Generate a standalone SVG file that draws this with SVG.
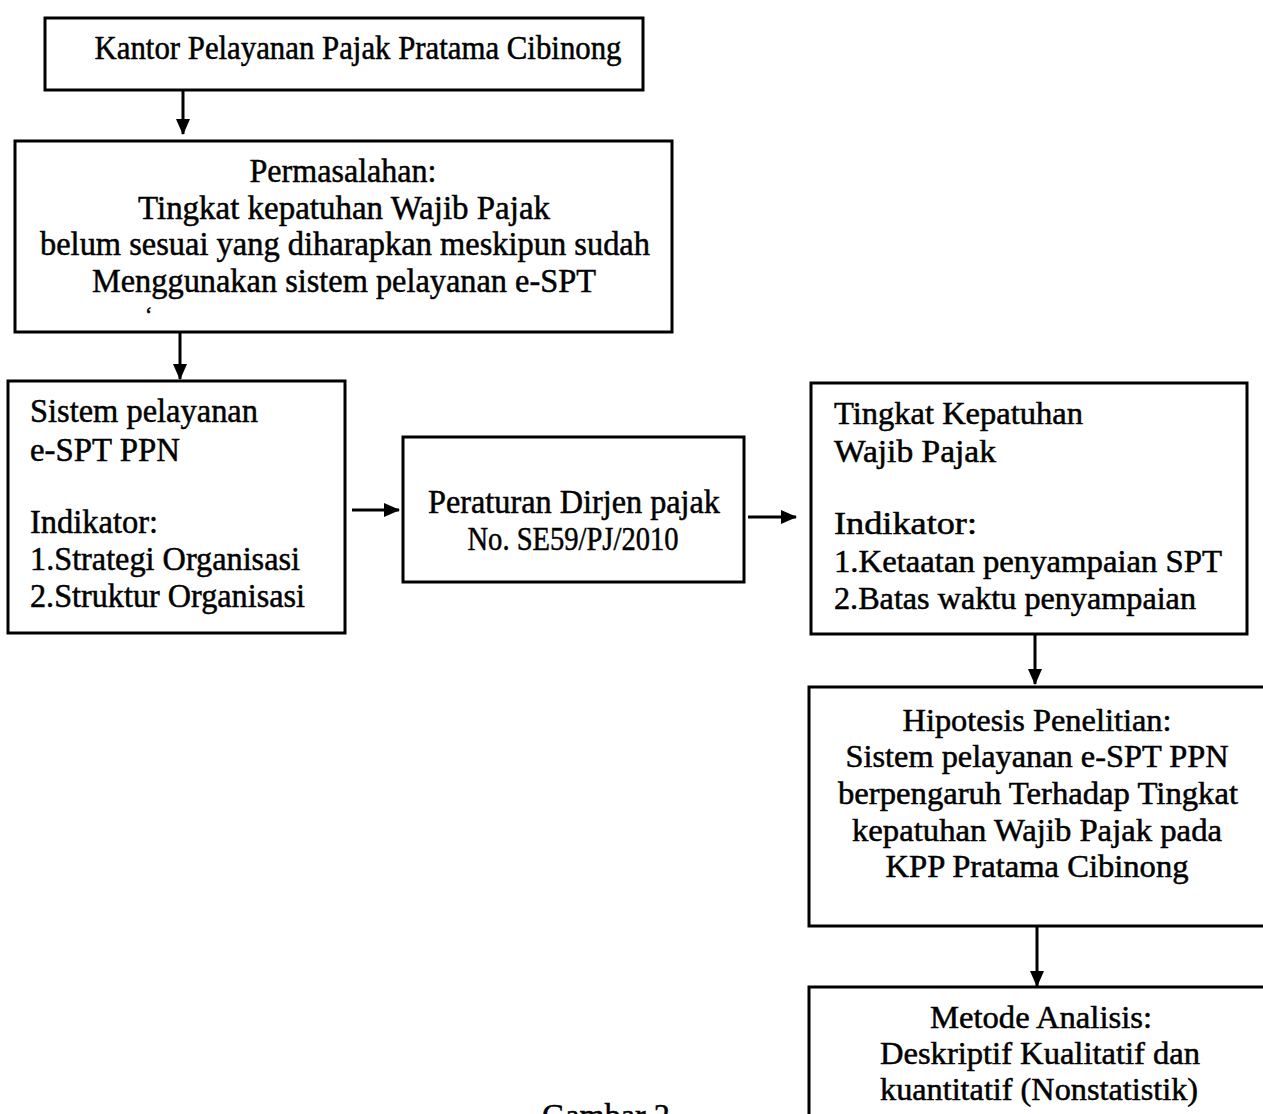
<svg xmlns="http://www.w3.org/2000/svg" width="1263" height="1114" viewBox="0 0 1263 1114">
<style>
.box{fill:#fff;stroke:#000;stroke-width:3}
.t{font-family:"Liberation Serif","Times New Roman",serif;font-size:34px;fill:#000;stroke:#000;stroke-width:0.5}
.c{text-anchor:middle}
.r{font-size:31px}
.con{stroke:#000;stroke-width:3;fill:none}
</style>
<defs>
<marker id="ah" markerUnits="userSpaceOnUse" markerWidth="16" markerHeight="16" viewBox="0 0 16 16" refX="15" refY="8" orient="auto">
<path d="M0,1 L16,8 L0,15 Z" fill="#000"/>
</marker>
</defs>
<rect width="1263" height="1114" fill="#fff"/>
<g id="connectors">
<line class="con" x1="183" y1="90" x2="183" y2="134" marker-end="url(#ah)"/>
<line class="con" x1="180" y1="332" x2="180" y2="379" marker-end="url(#ah)"/>
<line class="con" x1="352" y1="510" x2="399" y2="510" marker-end="url(#ah)"/>
<line class="con" x1="748" y1="517" x2="796" y2="517" marker-end="url(#ah)"/>
<line class="con" x1="1035" y1="634" x2="1035" y2="684" marker-end="url(#ah)"/>
<line class="con" x1="1037" y1="926" x2="1037" y2="986" marker-end="url(#ah)"/>
</g>
<g id="kantor">
<rect class="box" x="45" y="18" width="598" height="72"/>
<text class="t c" x="358" y="59" textLength="527" lengthAdjust="spacingAndGlyphs">Kantor Pelayanan Pajak Pratama Cibinong</text>
</g>
<g id="permasalahan">
<rect class="box" x="15" y="141" width="657" height="191"/>
<text class="t c" x="343" y="182" textLength="187" lengthAdjust="spacingAndGlyphs">Permasalahan:</text>
<text class="t c" x="344" y="219" textLength="412" lengthAdjust="spacingAndGlyphs">Tingkat kepatuhan Wajib Pajak</text>
<text class="t c" x="345" y="255" textLength="610" lengthAdjust="spacingAndGlyphs">belum sesuai yang diharapkan meskipun sudah</text>
<text class="t c" x="344" y="292" textLength="504" lengthAdjust="spacingAndGlyphs">Menggunakan sistem pelayanan e-SPT</text>
<text class="t" x="145" y="322" style="font-size:22px">‘</text>
</g>
<g id="sistem">
<rect class="box" x="8" y="381" width="337" height="252"/>
<text class="t" x="30" y="422" textLength="228" lengthAdjust="spacingAndGlyphs">Sistem pelayanan</text>
<text class="t" x="30" y="461" textLength="150" lengthAdjust="spacingAndGlyphs">e-SPT PPN</text>
<text class="t" x="30" y="533" textLength="128" lengthAdjust="spacingAndGlyphs">Indikator:</text>
<text class="t" x="30" y="570" textLength="270" lengthAdjust="spacingAndGlyphs">1.Strategi Organisasi</text>
<text class="t" x="30" y="607" textLength="275" lengthAdjust="spacingAndGlyphs">2.Struktur Organisasi</text>
</g>
<g id="peraturan">
<rect class="box" x="403" y="437" width="341" height="145"/>
<text class="t c" x="574" y="513" textLength="292" lengthAdjust="spacingAndGlyphs">Peraturan Dirjen pajak</text>
<text class="t c" x="573" y="550" textLength="211" lengthAdjust="spacingAndGlyphs">No. SE59/PJ/2010</text>
</g>
<g id="kepatuhan">
<rect class="box" x="811" y="383" width="436" height="251"/>
<text class="t r" x="834" y="424" textLength="249" lengthAdjust="spacingAndGlyphs">Tingkat Kepatuhan</text>
<text class="t r" x="834" y="462" textLength="162" lengthAdjust="spacingAndGlyphs">Wajib Pajak</text>
<text class="t r" x="834" y="534" textLength="143" lengthAdjust="spacingAndGlyphs">Indikator:</text>
<text class="t r" x="834" y="572" textLength="388" lengthAdjust="spacingAndGlyphs">1.Ketaatan  penyampaian SPT</text>
<text class="t r" x="834" y="609" textLength="362" lengthAdjust="spacingAndGlyphs">2.Batas waktu penyampaian</text>
</g>
<g id="hipotesis">
<rect class="box" x="809" y="687" width="460" height="239"/>
<text class="t r c" x="1037" y="731" textLength="269" lengthAdjust="spacingAndGlyphs">Hipotesis Penelitian:</text>
<text class="t r c" x="1037" y="767" textLength="383" lengthAdjust="spacingAndGlyphs">Sistem pelayanan e-SPT PPN</text>
<text class="t r c" x="1038" y="804" textLength="400" lengthAdjust="spacingAndGlyphs">berpengaruh Terhadap Tingkat</text>
<text class="t r c" x="1037" y="841" textLength="370" lengthAdjust="spacingAndGlyphs">kepatuhan Wajib Pajak pada</text>
<text class="t r c" x="1037" y="877" textLength="303" lengthAdjust="spacingAndGlyphs">KPP Pratama Cibinong</text>
</g>
<g id="metode">
<rect class="box" x="809" y="987" width="460" height="150"/>
<text class="t r c" x="1041" y="1028" textLength="222" lengthAdjust="spacingAndGlyphs">Metode Analisis:</text>
<text class="t r c" x="1040" y="1064" textLength="320" lengthAdjust="spacingAndGlyphs">Deskriptif Kualitatif dan</text>
<text class="t r c" x="1039" y="1100" textLength="318" lengthAdjust="spacingAndGlyphs">kuantitatif (Nonstatistik)</text>
</g>
<text class="t" x="542" y="1127" textLength="128" lengthAdjust="spacingAndGlyphs">Gambar 2</text>
</svg>
